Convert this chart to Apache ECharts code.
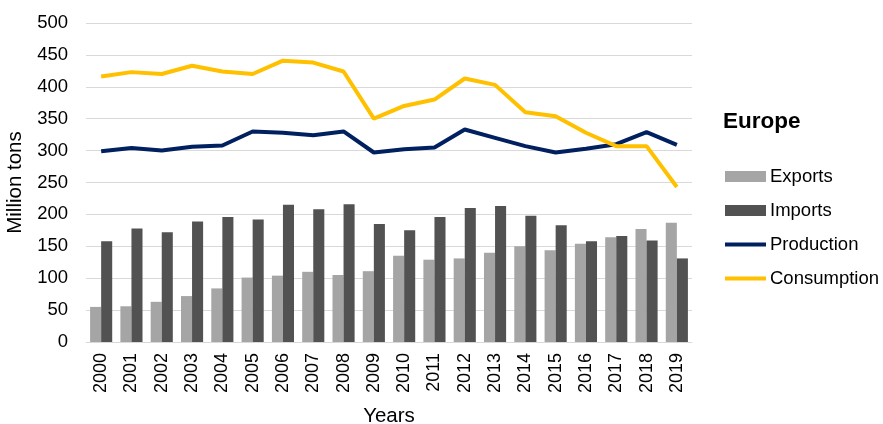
<meta charset="utf-8" />
<style>
html, body { margin: 0; padding: 0; background: #fff; }
#chart { width: 883px; height: 424px; }
</style>
<div id="chart"></div>
<script src="https://cdn.jsdelivr.net/npm/echarts@6.0.0/dist/echarts.min.js"></script>
<script>
const years = ['2000', '2001', '2002', '2003', '2004', '2005', '2006', '2007', '2008', '2009',
  '2010', '2011', '2012', '2013', '2014', '2015', '2016', '2017', '2018', '2019'];
const exportsData = [55, 56, 63, 72, 84, 101, 104, 110, 105, 111, 135, 129, 131, 140, 150, 144, 154, 164, 177, 187];
const importsData = [158, 178, 172, 189, 196, 192, 215, 208, 216, 185, 175, 196, 210, 213, 198, 183, 158, 166, 159, 131];
const production = [299, 304, 300, 306, 308, 330, 328, 324, 330, 297, 302, 305, 333, 320, 307, 297, 303, 310, 329, 309];
const consumption = [416, 423, 420, 433, 424, 420, 441, 438, 424, 350, 370, 380, 413, 403, 360, 354, 328, 307, 307, 243];

const font = 'Liberation Sans, Arial, sans-serif';
const lineIcon = 'path://M0,0 L40,0 L40,4 L0,4 Z';

// one legend per entry so each row sits where it does in the original
const legendRow = (name, top, icon) => ({
  left: 725, top,
  padding: 0,
  itemWidth: 41, itemHeight: 11,
  textStyle: { fontFamily: font, fontSize: 18.5, color: '#000', padding: [0, 0, 0, -1] },
  data: [{ name, icon }]
});

const chart = echarts.init(document.getElementById('chart'));
chart.setOption({
  animation: false,
  textStyle: { fontFamily: font },
  title: {
    text: 'Europe',
    left: 723, top: 110, padding: 0,
    textStyle: { fontFamily: font, fontSize: 22.5, fontWeight: 'bold', color: '#000' }
  },
  legend: [
    legendRow('Exports', 167, 'rect'),
    legendRow('Imports', 201, 'rect'),
    legendRow('Production', 235, lineIcon),
    legendRow('Consumption', 269, lineIcon)
  ],
  grid: { left: 86, right: 191, top: 23, bottom: 82, outerBoundsMode: 'none' },
  xAxis: {
    type: 'category',
    data: years,
    name: 'Years',
    nameLocation: 'middle',
    nameGap: 64,
    nameTextStyle: { fontSize: 20.5, color: '#000' },
    axisLine: { lineStyle: { color: '#D9D9D9' } },
    axisTick: { show: false },
    axisLabel: { rotate: 90, fontSize: 18, color: '#000', margin: 11 }
  },
  yAxis: {
    type: 'value',
    min: 0, max: 500, interval: 50,
    name: 'Million tons',
    nameLocation: 'middle',
    nameGap: 51,
    nameTextStyle: { fontSize: 20.5, color: '#000' },
    axisLabel: { fontSize: 18.5, color: '#000', margin: 18 },
    splitLine: { lineStyle: { color: '#D9D9D9', width: 1 } }
  },
  series: [
    {
      name: 'Exports', type: 'bar', data: exportsData,
      barGap: '0%', barCategoryGap: '27%',
      itemStyle: { color: '#A5A5A5' }
    },
    {
      name: 'Imports', type: 'bar', data: importsData,
      itemStyle: { color: '#525252' }
    },
    {
      name: 'Production', type: 'line', data: production,
      symbol: 'none',
      lineStyle: { color: '#002060', width: 4 },
      itemStyle: { color: '#002060' }
    },
    {
      name: 'Consumption', type: 'line', data: consumption,
      symbol: 'none',
      lineStyle: { color: '#FFC000', width: 4 },
      itemStyle: { color: '#FFC000' }
    }
  ]
});
</script>
